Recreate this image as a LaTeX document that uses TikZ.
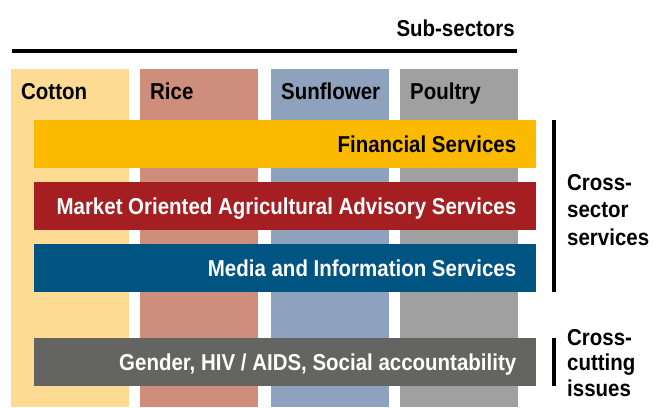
\documentclass[tikz,border=0pt]{standalone}
\usepackage{fontspec}
\setmainfont{Liberation Sans}[FakeStretch=0.89]
\definecolor{cotton}{HTML}{FDDB92}
\definecolor{rice}{HTML}{CF8E7B}
\definecolor{sunflower}{HTML}{8EA1BD}
\definecolor{poultry}{HTML}{A0A0A0}
\definecolor{financial}{HTML}{FBB900}
\definecolor{market}{HTML}{A51E22}
\definecolor{media}{HTML}{005482}
\definecolor{gender}{HTML}{646462}
\begin{document}
\begin{tikzpicture}[x=1pt,y=-1pt,
	txt/.style={font=\fontsize{23}{27.5}\selectfont\bfseries, inner sep=0pt},
	collabel/.style={txt, anchor=base west},
	bandlabel/.style={txt, text=white, anchor=base east},
	column/.style={minimum width=118pt, minimum height=338pt, inner sep=0pt, anchor=north west},
	band/.style={minimum width=502pt, minimum height=48pt, inner sep=0pt, anchor=north west},
	bracket/.style={line width=4pt}]
	\useasboundingbox (0,0) rectangle (653,407);
	\node[txt, anchor=base east] (subsectors) at (515,36) {Sub-sectors};
	\draw[line width=4.5pt] (12,51) -- (517,51);
	\foreach \name/\x/\lbl in {cotton/11/Cotton, rice/140/Rice, sunflower/271/Sunflower, poultry/400/Poultry} {
		\node[column, fill=\name] (\name) at (\x,69) {};
		\node[collabel] at ([xshift=10pt,yshift=-30pt]\name.north west) {\lbl};
	}
	\node[band, fill=financial] (fin) at (34,120) {};
	\node[band, fill=market] (mark) at (34,182) {};
	\node[band, fill=media] (med) at (34,244) {};
	\node[band, fill=gender] (gen) at (34,338) {};
	\node[bandlabel, text=black] at ([xshift=-20pt,yshift=-8pt]fin.east) {Financial Services};
	\node[bandlabel] at ([xshift=-20pt,yshift=-8pt]mark.east) {Market Oriented Agricultural Advisory Services};
	\node[bandlabel] at ([xshift=-20pt,yshift=-8pt]med.east) {Media and Information Services};
	\node[bandlabel] at ([xshift=-20pt,yshift=-8pt]gen.east) {Gender, HIV / AIDS, Social accountability};
	\draw[bracket] ([xshift=18pt]fin.north east) -- ([xshift=18pt]med.south east);
	\draw[bracket] ([xshift=18pt]gen.north east) -- ([xshift=18pt]gen.south east);
	\node[txt, align=left, anchor=north west] (crosssector) at (567,174) {Cross-\\sector\\services};
	\node[txt, align=left, anchor=north west, font=\fontsize{23}{25.5}\selectfont\bfseries] (crosscutting) at (567,329) {Cross-\\cutting\\issues};
\end{tikzpicture}
\end{document}
